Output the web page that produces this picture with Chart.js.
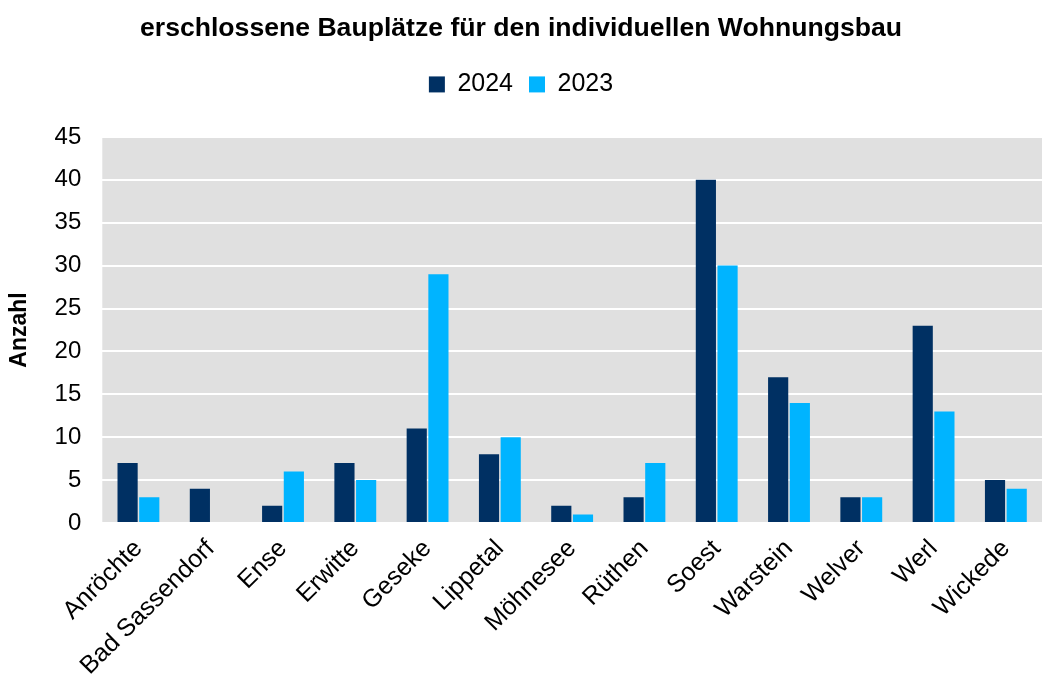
<!DOCTYPE html>
<html>
<head>
<meta charset="utf-8">
<title>Bauplätze</title>
<script src="https://cdn.jsdelivr.net/npm/chart.js"></script>
<style>
  html, body { margin: 0; padding: 0; background: #fff; }
  #wrap { width: 1042px; height: 684px; }
</style>
</head>
<body>
<div id="wrap"><canvas id="canvas"></canvas></div>
<script>
var orte = ["Anröchte", "Bad Sassendorf", "Ense", "Erwitte", "Geseke", "Lippetal", "Möhnesee", "Rüthen", "Soest", "Warstein", "Welver", "Werl", "Wickede"];
var werte2024 = [7, 4, 2, 7, 11, 8, 2, 3, 40, 17, 3, 23, 5];
var werte2023 = [3, 0, 6, 5, 29, 10, 1, 7, 30, 14, 3, 13, 4];

// grauer Hintergrund der Zeichenfläche
var plotBg = {
    id: 'plotBg',
    beforeDraw: function (chart) {
        var a = chart.chartArea;
        var c = chart.ctx;
        c.save();
        c.fillStyle = '#e0e0e0';
        c.fillRect(a.left, a.top, a.right - a.left, a.bottom - a.top);
        c.restore();
    }
};

var ctx = document.getElementById('canvas').getContext('2d');
new Chart(ctx, {
    type: 'bar',
    data: {
        labels: orte,
        datasets: [
            { label: '2024', data: werte2024, backgroundColor: '#003063', borderWidth: 0 },
            { label: '2023', data: werte2023, backgroundColor: '#00b4ff', borderWidth: 0 }
        ]
    },
    plugins: [plotBg],
    options: {
        responsive: true,
        maintainAspectRatio: false,
        animation: false,
        categoryPercentage: 0.6,
        barPercentage: 0.93,
        layout: { padding: { left: 0, right: 0, top: 0, bottom: 0 } },
        plugins: {
            title: {
                display: true,
                text: 'erschlossene Bauplätze für den individuellen Wohnungsbau',
                color: '#000',
                font: { family: 'Liberation Sans', size: 26.6, weight: 'bold' },
                padding: { top: 13, bottom: 11 }
            },
            // leerer Untertitel als Abstand zwischen Legende und Diagramm
            subtitle: {
                display: true,
                text: '',
                weight: 500,
                font: { size: 10 },
                padding: { top: 9, bottom: 9 }
            },
            legend: {
                labels: {
                    color: '#000',
                    font: { family: 'Liberation Sans', size: 25 },
                    boxWidth: 16,
                    boxHeight: 16,
                    padding: 16
                }
            },
            tooltip: { enabled: false }
        },
        scales: {
            x: {
                grid: { display: false },
                border: { display: false },
                ticks: {
                    color: '#000',
                    font: { family: 'Liberation Sans', size: 25 },
                    maxRotation: 45,
                    minRotation: 45,
                    autoSkip: false
                }
            },
            y: {
                min: 0,
                max: 45,
                ticks: {
                    stepSize: 5,
                    color: '#000',
                    padding: 21,
                    font: { family: 'Liberation Sans', size: 24 }
                },
                grid: { color: '#ffffff', lineWidth: 2, drawTicks: false },
                border: { display: false },
                title: {
                    display: true,
                    text: 'Anzahl',
                    color: '#000',
                    font: { family: 'Liberation Sans', size: 23, weight: 'bold' },
                    padding: { top: 6, bottom: 0 }
                }
            }
        }
    }
});
</script>
</body>
</html>
